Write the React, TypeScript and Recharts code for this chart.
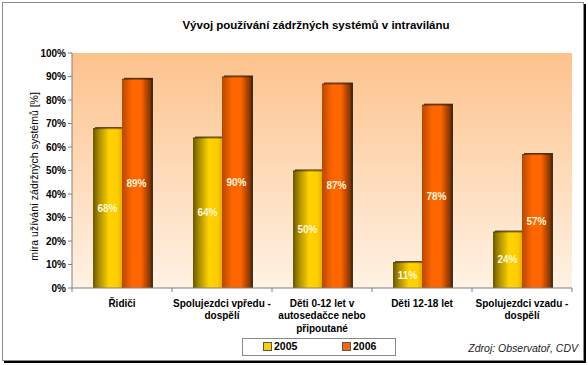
import React from "react";
import {
  BarChart, Bar, XAxis, YAxis, CartesianGrid, LabelList, ReferenceArea,
} from "recharts";

const categories = [
  "Řidiči",
  "Spolujezdci vpředu -\ndospělí",
  "Děti 0-12 let v\nautosedačce nebo\npřipoutané",
  "Děti 12-18 let",
  "Spolujezdci vzadu -\ndospělí",
];
const values2005 = [68, 64, 50, 11, 24];
const values2006 = [89, 90, 87, 78, 57];
const yTicks = [0, 10, 20, 30, 40, 50, 60, 70, 80, 90, 100];
const gridValues = [10, 20, 30, 40, 50, 60, 70, 80, 90];
const seriesNames = ["2005", "2006"];

const data = categories.map((name, i) => ({
  name,
  y2005: values2005[i],
  y2006: values2006[i],
}));

const FONT = "'Liberation Sans', Arial, sans-serif";

function ShadedBar(props: any) {
  const { x, y, width, height, fill } = props;
  if (!height || height <= 0) return null;
  return (
    <g>
      <rect x={x + 2} y={y - 1} width={width} height={height + 1} fill="#1a1100" opacity={0.85} />
      <rect x={x} y={y} width={width} height={height} fill={fill} />
      <rect x={x} y={y} width={width} height={1} fill="#000" opacity={0.35} />
    </g>
  );
}

function CategoryTick(props: any) {
  const { x, y, payload, index } = props;
  const half = payload?.offset || 50;
  const lines = String(payload.value).split("\n");
  return (
    <g>
      <line x1={x - half} x2={x - half} y1={y} y2={y + 4} stroke="#808080" />
      {index === categories.length - 1 && (
        <line x1={x + half} x2={x + half} y1={y} y2={y + 4} stroke="#808080" />
      )}
      {lines.map((l, i) => (
        <text key={i} x={x} y={y + 18.5 + i * 12.8} textAnchor="middle"
          fontFamily={FONT} fontSize={10} fontWeight="bold" fill="#000">
          {l}
        </text>
      ))}
    </g>
  );
}

function YTitle(props: any) {
  const vb = props.viewBox || {};
  const cx = vb.x + 2;
  const cy = vb.y + vb.height / 2 + 6;
  return (
    <text x={cx} y={cy} transform={`rotate(-90 ${cx} ${cy})`} textAnchor="middle"
      dominantBaseline="central" fontFamily={FONT} fontSize={10.5} fill="#000">
      míra užívání zádržných systémů [%]
    </text>
  );
}

export default function App() {
  return (
    <div style={{ position: "absolute", left: 0, top: 0, width: 588, height: 365, background: "#fff", fontFamily: FONT }}>
      <div style={{
        position: "absolute", left: 2, top: 2, width: 580, height: 357,
        border: "1px solid #8a8a8a", boxShadow: "2px 2px 0 #000",
      }} />
      <div style={{
        position: "absolute", left: 0, width: 632, top: 19, textAlign: "center",
        fontSize: 11.5, fontWeight: "bold", color: "#000",
      }}>
        Vývoj používání zádržných systémů v intravilánu
      </div>
      <div style={{ position: "absolute", left: 0, top: 0 }}>
        <BarChart width={588} height={365} data={data}
          margin={{ top: 53, right: 16, bottom: 0, left: 32 }}
          barCategoryGap="21%" barGap={0}>
          <defs>
            <linearGradient id="bgGrad" x1="0" y1="0" x2="0" y2="1">
              <stop offset="0%" stopColor="#fcc28c" />
              <stop offset="100%" stopColor="#fff2e4" />
            </linearGradient>
            <linearGradient id="gY" x1="0" y1="0" x2="1" y2="0">
              <stop offset="0%" stopColor="#6a5800" />
              <stop offset="20%" stopColor="#a88a00" />
              <stop offset="55%" stopColor="#ffd200" />
              <stop offset="85%" stopColor="#ffcc00" />
              <stop offset="100%" stopColor="#e0b000" />
            </linearGradient>
            <linearGradient id="gO" x1="0" y1="0" x2="1" y2="0">
              <stop offset="0%" stopColor="#b84800" />
              <stop offset="35%" stopColor="#ff6600" />
              <stop offset="65%" stopColor="#ff6600" />
              <stop offset="100%" stopColor="#7a2e00" />
            </linearGradient>
          </defs>
          <ReferenceArea y1={0} y2={100} fill="url(#bgGrad)" fillOpacity={1} stroke="none" ifOverflow="visible" />
          <CartesianGrid vertical={false} horizontalValues={gridValues}
            stroke="#8a7866" strokeDasharray="2 2" />
          <XAxis dataKey="name" tick={<CategoryTick />} tickLine={false} tickSize={0}
            tickMargin={0} interval={0} axisLine={{ stroke: "#808080" }} height={77} />
          <YAxis domain={[0, 100]} ticks={yTicks} width={40} interval={0}
            tickFormatter={(v: number) => `${v}%`} tickSize={4} tickMargin={2}
            tick={{ fontFamily: FONT, fontSize: 10, fontWeight: "bold", fill: "#000" }}
            tickLine={{ stroke: "#808080" }} axisLine={{ stroke: "#808080" }}
            label={<YTitle />} />
          <Bar dataKey="y2005" name={seriesNames[0]} fill="url(#gY)" shape={<ShadedBar />} isAnimationActive={false}>
            <LabelList dataKey="y2005" position="center" formatter={(v: any) => `${v}%`}
              fill="#fff6dc" fontFamily={FONT} fontSize={10} fontWeight="bold" />
          </Bar>
          <Bar dataKey="y2006" name={seriesNames[1]} fill="url(#gO)" shape={<ShadedBar />} isAnimationActive={false}>
            <LabelList dataKey="y2006" position="center" formatter={(v: any) => `${v}%`}
              fill="#fff6dc" fontFamily={FONT} fontSize={10} fontWeight="bold" />
          </Bar>
        </BarChart>
      </div>
      <div style={{
        position: "absolute", left: 242, top: 338, width: 152, height: 16,
        border: "1px solid #8a8a8a", background: "#fff", fontSize: 10.5, fontWeight: "bold",
      }}>
        {seriesNames.map((n, i) => (
          <div key={n} style={{ position: "absolute", left: i === 0 ? 20 : 99, top: 1, display: "flex", alignItems: "center" }}>
            <span style={{
              display: "inline-block", width: 7, height: 7, marginRight: 2,
              background: i === 0 ? "#ffcc00" : "#ff6600", border: "1px solid #555",
            }} />
            {n}
          </div>
        ))}
      </div>
      <div style={{
        position: "absolute", right: 10, top: 342, fontSize: 10.5, fontStyle: "italic", color: "#222",
      }}>
        Zdroj: Observatoř, CDV
      </div>
    </div>
  );
}
